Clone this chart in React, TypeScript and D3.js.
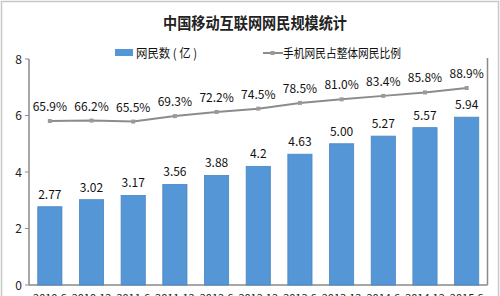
import React from "react";
import * as d3 from "d3";

const categories = ["2010.6", "2010.12", "2011.6", "2011.12", "2012.6", "2012.12", "2013.6", "2013.12", "2014.6", "2014.12", "2015.6"];
const users = [2.77, 3.02, 3.17, 3.56, 3.88, 4.2, 4.63, 5.0, 5.27, 5.57, 5.94];
const userLabels = ["2.77", "3.02", "3.17", "3.56", "3.88", "4.2", "4.63", "5.00", "5.27", "5.57", "5.94"];
const mobileShare = [65.9, 66.2, 65.5, 69.3, 72.2, 74.5, 78.5, 81.0, 83.4, 85.8, 88.9];
const yTicks = [0, 2, 4, 6, 8];

const W = 500;
const H = 296;
const FONT = "'Noto Sans CJK SC', 'Noto Sans', sans-serif";

export default function App() {
  const left = 29;
  const right = 487.5;
  const top = 59;
  const bottom = 285;

  const x = d3.scaleBand<string>().domain(categories).range([left, right]).paddingInner(0.42).paddingOuter(0.21);
  const y = d3.scaleLinear().domain([0, 8]).range([bottom, top]);
  const y2 = d3.scaleLinear().domain([-48.4, 109.1]).range([bottom, top]);

  const cx = (c: string) => (x(c) as number) + x.bandwidth() / 2;
  const line = d3
    .line<number>()
    .x((_, i) => cx(categories[i]))
    .y((d) => y2(d));

  return (
    <div style={{ position: "fixed", left: 0, top: 0, width: W, height: H, background: "#fff" }}>
      <svg width={W} height={H} style={{ display: "block" }} fontFamily={FONT}>
        <rect x={0} y={0} width={W} height={H} fill="#fff" />
        <rect x={1.5} y={1.5} width={W - 3} height={H + 5} fill="none" stroke="#c8c8c8" strokeWidth={1.5} />
        <text x={255} y={29} textAnchor="middle" fontSize={15.5} fontWeight="bold" fill="#222" textLength={184} lengthAdjust="spacingAndGlyphs">
          中国移动互联网网民规模统计
        </text>

        {/* legend */}
        <rect x={115} y={49} width={18} height={7} fill="#5596d6" />
        <text x={136} y={57.5} fontSize={12.5} fill="#111" textLength={61} lengthAdjust="spacingAndGlyphs">
          网民数 ( 亿 )
        </text>
        <line x1={263} x2={283} y1={53} y2={53} stroke="#8c8c8c" strokeWidth={2} />
        <rect x={270.5} y={51} width={4} height={4} fill="#9a9a9a" />
        <text x={283} y={57.5} fontSize={12.5} fill="#111" textLength={118} lengthAdjust="spacingAndGlyphs">
          手机网民占整体网民比例
        </text>

        {/* axes */}
        <line x1={left} x2={left} y1={top} y2={bottom} stroke="#8a8a8a" strokeWidth={1.5} />
        <line x1={left} x2={right} y1={bottom} y2={bottom} stroke="#8a8a8a" strokeWidth={1.5} />
        <line x1={right} x2={right} y1={top - 1} y2={bottom} stroke="#8a8a8a" strokeWidth={1.5} />
        {yTicks.map((t) => (
          <g key={t}>
            <line x1={left - 4} x2={left} y1={y(t)} y2={y(t)} stroke="#8a8a8a" />
            <text x={22} y={y(t) + 4.5} textAnchor="end" fontSize={12} fill="#222">
              {t}
            </text>
          </g>
        ))}

        {/* bars */}
        {users.map((v, i) => (
          <rect
            key={categories[i]}
            x={x(categories[i]) as number}
            y={y(v)}
            width={x.bandwidth()}
            height={bottom - y(v)}
            fill="#5596d6"
            stroke="#4a86c2"
            strokeWidth={0.8}
          />
        ))}
        {users.map((v, i) => (
          <text key={"l" + i} x={cx(categories[i])} y={y(v) - 8} textAnchor="middle" fontSize={12} fill="#111">
            {userLabels[i]}
          </text>
        ))}

        {/* line */}
        <path d={line(mobileShare) || ""} fill="none" stroke="#8c8c8c" strokeWidth={2} />
        {mobileShare.map((v, i) => (
          <rect key={"m" + i} x={cx(categories[i]) - 2} y={y2(v) - 2} width={4} height={4} fill="#9a9a9a" />
        ))}
        {mobileShare.map((v, i) => (
          <text key={"p" + i} x={cx(categories[i])} y={y2(v) - 10} textAnchor="middle" fontSize={12} fill="#111">
            {v.toFixed(1) + "%"}
          </text>
        ))}

        {/* x labels */}
        {categories.map((c) => (
          <text key={"x" + c} x={cx(c)} y={301.5} textAnchor="middle" fontSize={11} fill="#222">
            {c}
          </text>
        ))}
      </svg>
    </div>
  );
}
